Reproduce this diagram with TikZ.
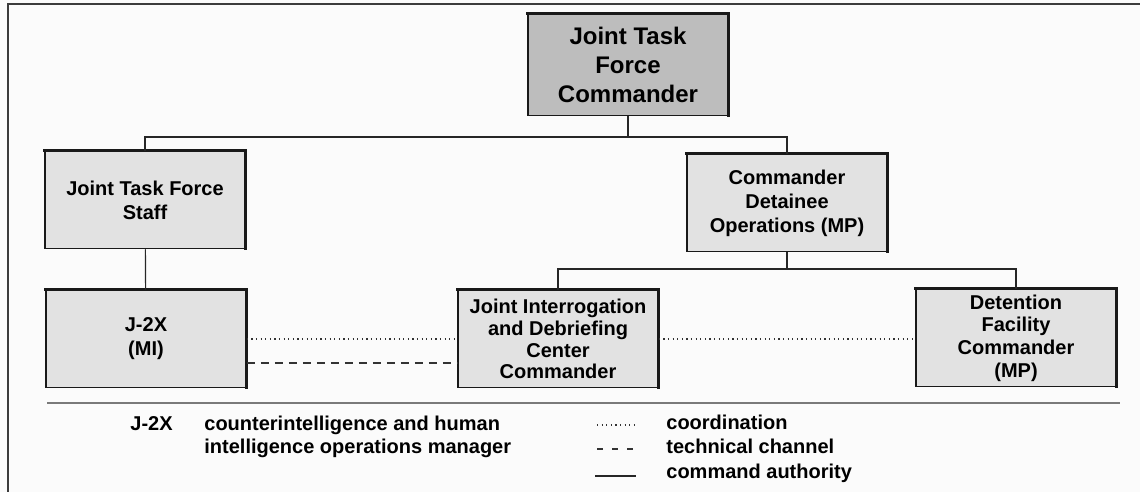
\documentclass[tikz,border=0pt]{standalone}
\usepackage{fontspec}
\setmainfont{Liberation Sans}
\definecolor{pagebg}{HTML}{FBFBFB}
\definecolor{boxgray}{HTML}{E2E2E2}
\definecolor{topgray}{HTML}{BDBDBD}
\definecolor{framegray}{HTML}{3C3C3C}
\definecolor{rulegray}{HTML}{7A7A7A}

\begin{document}
\begin{tikzpicture}[
    x=0.5pt, y=-0.5pt,
    every node/.style={
        font=\bfseries\fontsize{10}{12}\selectfont,
    },
    orgbox/.style={
        draw=black!90, line width=0.75pt, fill=boxgray,
        minimum width=100pt, minimum height=48.5pt, inner sep=2pt,
        align=center,
    },
    cmdline/.style={line width=0.6pt, black!85},
    coordline/.style={line width=0.6pt, black!80, dash pattern=on 0.6pt off 1.7pt},
    techline/.style={line width=0.7pt, black!80, dash pattern=on 4pt off 3pt},
    keytext/.style={anchor=base west, inner sep=0pt},
]
    \path[use as bounding box, fill=pagebg] (0,0) rectangle (1140,492);
    \draw[framegray, line width=1pt] (1140,4) -| (8,492);

    % boxes
    \node[orgbox, fill=topgray, font=\bfseries\fontsize{12}{14.5}\selectfont,
          minimum height=50.5pt] (jtfc) at (628,65) {Joint Task\\Force\\Commander};
    \node[orgbox] (staff) at (145,200) {Joint Task Force\\Staff};
    \node[orgbox] (cdo) at (787,203) {Commander\\Detainee\\Operations (MP)};
    \node[orgbox] (j2x) at (146,339) {J-2X\\(MI)};
    \node[orgbox, font=\bfseries\fontsize{10}{10.9}\selectfont] (jidc) at (558,339)
        {Joint Interrogation\\and Debriefing\\Center\\Commander};
    \node[orgbox, font=\bfseries\fontsize{10}{11.3}\selectfont] (dfc) at (1016,338)
        {Detention\\Facility\\Commander\\(MP)};
    % heavy top and right edges
    \foreach \b in {jtfc,staff,cdo,j2x,jidc,dfc}
        \draw[black!90, line width=1.7pt, line cap=rect]
            ([xshift=0.4pt]\b.north west) -- (\b.north east) -- ([yshift=0.4pt]\b.south east);

    % command authority
    \coordinate (busA) at (628,137);
    \coordinate (busB) at (787,269);
    \draw[cmdline] (jtfc.south) -- (busA);
    \draw[cmdline] (staff.north) |- (busA) -| (cdo.north);
    \draw[cmdline] (staff) -- (j2x);
    \draw[cmdline] (cdo.south) -- (busB);
    \draw[cmdline] (jidc.north) |- (busB) -| (dfc.north);

    % coordination / technical channel
    \draw[coordline] (j2x.east) -- (jidc.west);
    \draw[coordline] (jidc.east) -- (jidc.east -| dfc.west);
    \draw[techline] ([yshift=-12pt]j2x.east) -- ([yshift=-12pt]jidc.west);

    % legend
    \draw[rulegray, line width=0.6pt] (47,403) -- (1120,403);
    \node[keytext] (keyj2x) at (130,430) {J-2X};
    \node[keytext] (keyj2xa) at (204,430) {counterintelligence and human};
    \node[keytext] (keyj2xb) at (204,453) {intelligence operations manager};
    \node[keytext] (keycoord) at (666,429) {coordination};
    \node[keytext] (keytech) at (666,453) {technical channel};
    \node[keytext] (keycmd) at (666,478) {command authority};
    \draw[coordline] (597,425) -- (635,425);
    \draw[techline, dash pattern=on 3pt off 4.5pt] (597,449) -- (636,449);
    \draw[cmdline, line width=1pt] (595,476) -- (636,476);
\end{tikzpicture}
\end{document}
